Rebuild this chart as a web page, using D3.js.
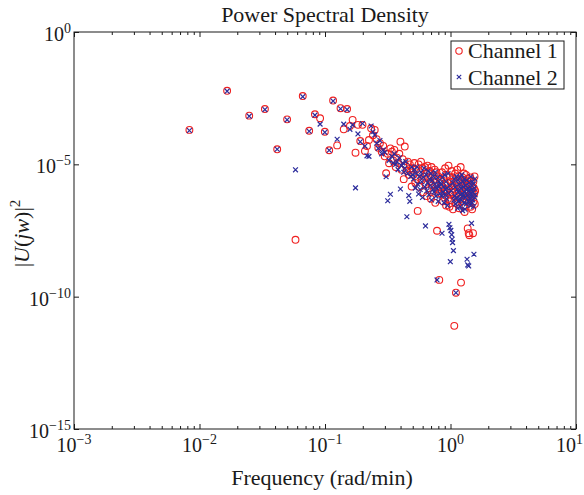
<!DOCTYPE html>
<html>
<head>
<meta charset="utf-8">
<script src="https://cdn.jsdelivr.net/npm/d3@7"></script>
<style>
  body { margin: 0; background: #fff; }
  svg { font-family: "Liberation Serif", "Times New Roman", serif; }
</style>
</head>
<body>
<div id="chart"></div>
<script>
// frequency grid (rad/min), one entry per PSD bin
const frequency = [
  0.00831, 0.0166, 0.0249, 0.0332, 0.0416, 0.0499, 0.0582, 0.0665, 0.0748, 0.0831,
  0.0914, 0.0997, 0.108, 0.116, 0.125, 0.133, 0.141, 0.150, 0.158, 0.166,
  0.175, 0.183, 0.191, 0.199, 0.208, 0.216, 0.224, 0.233, 0.241, 0.249,
  0.258, 0.266, 0.274, 0.283, 0.291, 0.299, 0.307, 0.316, 0.324, 0.332,
  0.341, 0.349, 0.357, 0.366, 0.374, 0.382, 0.391, 0.399, 0.407, 0.416,
  0.424, 0.432, 0.440, 0.449, 0.457, 0.465, 0.474, 0.482, 0.490, 0.499,
  0.507, 0.515, 0.524, 0.532, 0.540, 0.548, 0.557, 0.565, 0.573, 0.582,
  0.590, 0.598, 0.607, 0.615, 0.623, 0.632, 0.640, 0.648, 0.656, 0.665,
  0.673, 0.681, 0.690, 0.698, 0.706, 0.715, 0.723, 0.731, 0.740, 0.748,
  0.756, 0.765, 0.773, 0.781, 0.789, 0.798, 0.806, 0.814, 0.823, 0.831,
  0.839, 0.848, 0.856, 0.864, 0.873, 0.881, 0.889, 0.897, 0.906, 0.914,
  0.922, 0.931, 0.939, 0.947, 0.956, 0.964, 0.972, 0.981, 0.989, 0.997,
  1.006, 1.014, 1.022, 1.030, 1.039, 1.047, 1.055, 1.064, 1.072, 1.080,
  1.089, 1.097, 1.105, 1.114, 1.122, 1.130, 1.138, 1.147, 1.155, 1.163,
  1.172, 1.180, 1.188, 1.197, 1.205, 1.213, 1.222, 1.230, 1.238, 1.247,
  1.255, 1.263, 1.271, 1.280, 1.288, 1.296, 1.305, 1.313, 1.321, 1.330,
  1.338, 1.346, 1.355, 1.363, 1.371, 1.379, 1.388, 1.396, 1.404, 1.413,
  1.421, 1.429, 1.438, 1.446, 1.454, 1.463, 1.471, 1.479, 1.487, 1.496,
  1.504, 1.512, 1.521, 1.529, 1.537, 1.546, 1.554, 1.562, 1.571
];

const channel1 = [
  2.0e-4, 6.0e-3, 6.9e-4, 1.23e-3, 3.7e-5, 5.0e-4, 1.41e-8, 3.8e-3, 1.86e-4, 7.8e-4,
  5.5e-4, 1.7e-4, 3.4e-5, 2.57e-3, 5.2e-5, 1.32e-3, 2.1e-4, 1.23e-3, 2.8e-4, 4.8e-4,
  2.75e-5, 3.1e-4, 7.6e-5, 3.1e-4, 3.16e-5, 4.9e-5, 8.3e-5, 2.3e-4, 1.26e-4, 2.0e-4,
  8.9e-5, 4.2e-5, 6.3e-5, 3.0e-5, 5.0e-5, 2.0e-5, 4.6e-6, 2.5e-5, 1.1e-5, 4.0e-5,
  3.0e-5, 1.41e-5, 3.5e-5, 7.9e-6, 1.78e-5, 1.12e-5, 2.5e-5, 7.2e-5, 6.3e-6, 1.58e-5,
  2.75e-6, 4.7e-5, 8.9e-6, 5.6e-6, 1.26e-5, 4.0e-6, 1.0e-5, 5.0e-6, 1.45e-6, 7.1e-6,
  4.0e-6, 1.12e-5, 2.0e-6, 6.3e-6, 2.8e-6, 1.74e-7, 1.0e-5, 1.41e-6, 5.0e-6, 1.26e-5,
  2.5e-6, 7.1e-6, 8.9e-7, 3.5e-6, 7.9e-6, 1.78e-6, 4.5e-6, 6.3e-7, 8.9e-6, 3.2e-6,
  1.26e-6, 5.6e-6, 2.2e-6, 5.0e-7, 7.9e-6, 1.58e-6, 4.0e-6, 1.0e-6, 2.8e-6, 6.3e-6,
  3.5e-7, 2.0e-6, 5.0e-6, 3.1e-8, 1.12e-6, 3.5e-6, 7.9e-7, 4.3e-10, 2.5e-6, 1.41e-6,
  2.5e-6, 7.9e-7, 5.0e-6, 1.41e-6, 4.0e-7, 3.2e-6, 1.12e-6, 5.6e-7, 7.1e-6, 1.78e-6,
  2.8e-7, 4.0e-6, 1.0e-6, 2.0e-6, 5.0e-7, 8.9e-6, 1.26e-6, 2.5e-7, 3.5e-6, 7.1e-7,
  2.2e-6, 4.5e-7, 5.6e-6, 8.9e-7, 1.58e-6, 2.0e-7, 2.8e-6, 6.3e-7, 7.9e-12, 1.12e-6,
  4.5e-6, 3.5e-7, 1.41e-10, 2.0e-6, 7.9e-7, 6.3e-6, 3.2e-7, 1.41e-6, 5.6e-7, 3.5e-6,
  2.2e-7, 1.26e-6, 2.5e-6, 5.0e-7, 7.9e-6, 3.4e-10, 1.0e-6, 1.78e-6, 4.0e-7, 3.2e-6,
  7.1e-7, 1.58e-6, 2.8e-7, 4.5e-6, 8.9e-7, 1.58e-7, 2.2e-6, 6.3e-7, 1.12e-6, 4.0e-6,
  4.5e-7, 2.0e-6, 7.9e-7, 2.8e-6, 3.8e-8, 5.6e-7, 1.41e-6, 2.5e-8, 3.5e-7, 2.1e-8,
  1.78e-6, 7.1e-7, 3.2e-6, 2.5e-7, 1.12e-6, 5.0e-7, 2.5e-6, 8.9e-7, 2.0e-7, 1.41e-6,
  6.3e-7, 2.5e-8, 2.2e-6, 4.0e-7, 1.26e-6, 7.9e-7, 3.5e-6, 3.2e-7, 1.0e-6
];

const channel2 = [
  1.9e-4, 5.8e-3, 6.6e-4, 1.17e-3, 3.7e-5, 4.8e-4, 6.2e-6, 3.6e-3, 1.78e-4, 7.2e-4,
  3.3e-4, 1.62e-4, 3.4e-5, 2.45e-3, 8.9e-5, 1.26e-3, 3.3e-4, 1.17e-3, 2.1e-4, 3.1e-4,
  1.29e-6, 1.41e-4, 7.1e-5, 3.5e-4, 4.9e-5, 2.1e-5, 2.0e-5, 2.8e-4, 1.7e-4, 1.29e-4,
  6.3e-5, 4.0e-5, 7.9e-5, 2.5e-5, 3.5e-5, 2.8e-5, 3.4e-6, 4.2e-7, 1.41e-5, 7.4e-7,
  2.0e-5, 1.12e-5, 2.5e-5, 1.0e-5, 1.26e-5, 6.3e-6, 1.78e-5, 1.17e-6, 8.9e-6, 1.12e-5,
  5.0e-6, 7.1e-6, 1.26e-5, 1.05e-7, 4.5e-6, 6.6e-7, 4.0e-7, 3.5e-6, 7.9e-6, 4.0e-6,
  2.8e-6, 6.3e-6, 1.26e-6, 4.5e-6, 7.9e-6, 1.78e-6, 7.6e-7, 3.5e-6, 1.12e-6, 5.0e-6,
  2.2e-6, 5.6e-7, 3.2e-6, 7.1e-6, 1.41e-6, 4.7e-8, 4.0e-6, 1.0e-6, 2.0e-6, 5.6e-6,
  7.1e-7, 2.8e-6, 1.58e-6, 4.5e-6, 4.5e-7, 2.5e-6, 1.12e-6, 3.5e-6, 8.9e-7, 1.78e-6,
  5.0e-6, 6.3e-7, 1.26e-6, 4.3e-10, 3.2e-6, 4.0e-7, 2.2e-6, 1.41e-6, 7.9e-7, 2.0e-6,
  1.78e-6, 6.3e-7, 2.5e-8, 3.2e-6, 8.9e-7, 1.41e-6, 3.5e-7, 4.0e-6, 7.1e-7, 1.12e-6,
  2.2e-6, 5.0e-7, 1.26e-6, 2.8e-7, 4.5e-6, 7.9e-7, 5.4e-8, 1.58e-6, 4.0e-8, 2.1e-9,
  3.2e-8, 1.0e-6, 2.2e-8, 1.48e-8, 1.1e-8, 2.0e-6, 5.5e-9, 4.5e-7, 2.8e-6, 6.3e-7,
  1.41e-6, 3.2e-7, 1.41e-10, 3.5e-6, 5.6e-7, 1.12e-6, 2.2e-7, 2.5e-6, 8.9e-7, 4.0e-7,
  1.78e-6, 5.0e-7, 3.2e-6, 7.1e-7, 2.5e-7, 1.26e-6, 4.5e-7, 4.0e-6, 7.9e-7, 1.78e-7,
  2.2e-6, 6.3e-7, 1.41e-6, 3.5e-7, 2.8e-6, 8.9e-7, 2.0e-7, 1.58e-6, 5.6e-7, 1.12e-6,
  3.2e-7, 2.5e-6, 2.6e-9, 7.1e-7, 1.58e-9, 1.26e-6, 4.0e-7, 1.45e-9, 1.0e-6, 2.0e-6,
  5.0e-7, 1.41e-6, 2.8e-7, 7.9e-7, 3.4e-6, 6.3e-7, 5.9e-8, 1.12e-6, 3.5e-7, 2.2e-6,
  4.5e-7, 8.9e-7, 1.78e-6, 2.5e-7, 4.0e-9, 1.26e-6, 5.6e-7, 2.8e-6, 7.1e-7
];

const seriesNames = ['Channel 1', 'Channel 2'];
const xTicks = [1e-3, 1e-2, 1e-1, 1e0, 1e1];
const xTickExp = ['\u22123', '\u22122', '\u22121', '0', '1'];
const yTicks = [1e0, 1e-5, 1e-10, 1e-15];
const yTickExp = ['0', '\u22125', '\u221210', '\u221215'];

const width = 584;
const height = 495;
const plotLeft = 74, plotRight = 576, plotTop = 32, plotBottom = 429;
const red = '#f02020';
const blue = '#2c2c9c';

const svg = d3.select('#chart')
    .append('svg')
    .attr('width', width)
    .attr('height', height);

const x = d3.scaleLog().domain([1e-3, 1e1]).range([plotLeft, plotRight]);
const y = d3.scaleLog().domain([1e-15, 1e0]).range([plotBottom, plotTop]);

const minorX = x.ticks().filter(v => !xTicks.some(t => Math.abs(t - v) / t < 1e-9));

// ticks, pointing inwards on all four sides
svg.append('g')
    .attr('transform', `translate(0,${plotBottom})`)
    .call(d3.axisBottom(x).tickValues(xTicks).tickSizeInner(-5).tickSizeOuter(0).tickFormat(''));
svg.append('g')
    .attr('transform', `translate(0,${plotBottom})`)
    .call(d3.axisBottom(x).tickValues(minorX).tickSizeInner(-3).tickSizeOuter(0).tickFormat(''));
svg.append('g')
    .attr('transform', `translate(0,${plotTop})`)
    .call(d3.axisTop(x).tickValues(xTicks).tickSizeInner(-5).tickSizeOuter(0).tickFormat(''));
svg.append('g')
    .attr('transform', `translate(0,${plotTop})`)
    .call(d3.axisTop(x).tickValues(minorX).tickSizeInner(-3).tickSizeOuter(0).tickFormat(''));
svg.append('g')
    .attr('transform', `translate(${plotLeft},0)`)
    .call(d3.axisLeft(y).tickValues(yTicks).tickSizeInner(-5).tickSizeOuter(0).tickFormat(''));
svg.append('g')
    .attr('transform', `translate(${plotRight},0)`)
    .call(d3.axisRight(y).tickValues(yTicks).tickSizeInner(-5).tickSizeOuter(0).tickFormat(''));

svg.selectAll('.domain').remove();
svg.selectAll('.tick line').attr('stroke', '#1a1a1a');

svg.append('rect')
    .attr('x', plotLeft)
    .attr('y', plotTop)
    .attr('width', plotRight - plotLeft)
    .attr('height', plotBottom - plotTop)
    .attr('fill', 'none')
    .attr('stroke', '#1a1a1a')
    .attr('stroke-width', 1);

// tick labels as 10^n
const xLab = svg.append('g').selectAll('text')
    .data(xTicks)
    .enter()
    .append('text')
    .attr('x', d => x(d))
    .attr('y', plotBottom + 23)
    .attr('text-anchor', 'middle')
    .style('font-size', '20px')
    .attr('fill', '#1a1a1a');
xLab.append('tspan').text('10');
xLab.append('tspan').attr('dy', -8).style('font-size', '14px').text((d, i) => xTickExp[i]);

// keep the last label inside the window
xLab.each(function () {
    const b = this.getBBox();
    if (b.x + b.width > width - 1) {
        d3.select(this).attr('x', +d3.select(this).attr('x') - (b.x + b.width - width + 1));
    }
});

const yLab = svg.append('g').selectAll('text')
    .data(yTicks)
    .enter()
    .append('text')
    .attr('x', plotLeft - 3)
    .attr('y', d => y(d) + 9)
    .attr('text-anchor', 'end')
    .style('font-size', '20px')
    .attr('fill', '#1a1a1a');
yLab.append('tspan').text('10');
yLab.append('tspan').attr('dy', -8).style('font-size', '14px').text((d, i) => yTickExp[i]);

// title and axis labels
svg.append('text')
    .attr('x', (plotLeft + plotRight) / 2)
    .attr('y', 22)
    .attr('text-anchor', 'middle')
    .style('font-size', '22px')
    .attr('fill', '#1a1a1a')
    .text('Power Spectral Density');

svg.append('text')
    .attr('x', (plotLeft + plotRight) / 2 - 3)
    .attr('y', 485)
    .attr('text-anchor', 'middle')
    .style('font-size', '22px')
    .attr('fill', '#1a1a1a')
    .text('Frequency (rad/min)');

const yTitle = svg.append('text')
    .attr('transform', `translate(29,${(plotTop + plotBottom) / 2 + 3}) rotate(-90)`)
    .attr('text-anchor', 'middle')
    .style('font-size', '22px')
    .attr('fill', '#1a1a1a');
yTitle.append('tspan').text('|');
yTitle.append('tspan').style('font-style', 'italic').text('U');
yTitle.append('tspan').text('(');
yTitle.append('tspan').style('font-style', 'italic').text('jw');
yTitle.append('tspan').text(')|');
yTitle.append('tspan').attr('dy', -9).style('font-size', '15px').text('2');

// markers
const crossPath = s => `M${-s},${-s}L${s},${s}M${-s},${s}L${s},${-s}`;

const pts1 = frequency.map((f, i) => ({ f: f, v: channel1[i] }));
const pts2 = frequency.map((f, i) => ({ f: f, v: channel2[i] }));

svg.append('g').selectAll('circle')
    .data(pts1)
    .enter()
    .append('circle')
    .attr('cx', d => x(d.f))
    .attr('cy', d => y(d.v))
    .attr('r', 3.4)
    .attr('fill', 'none')
    .attr('stroke', red)
    .attr('stroke-width', 1.1);

svg.append('g').selectAll('path')
    .data(pts2)
    .enter()
    .append('path')
    .attr('transform', d => `translate(${x(d.f)},${y(d.v)})`)
    .attr('d', crossPath(2.4))
    .attr('stroke', blue)
    .attr('stroke-width', 1.2);

// legend
const legend = svg.append('g');
legend.append('rect')
    .attr('x', 451)
    .attr('y', 41)
    .attr('width', 113)
    .attr('height', 48)
    .attr('fill', '#fff')
    .attr('stroke', '#1a1a1a');
legend.append('circle')
    .attr('cx', 459).attr('cy', 51).attr('r', 3.2)
    .attr('fill', 'none').attr('stroke', red).attr('stroke-width', 1.1);
legend.append('path')
    .attr('transform', 'translate(459,77)')
    .attr('d', crossPath(2.2))
    .attr('stroke', blue).attr('stroke-width', 1.1);
legend.selectAll('.lab')
    .data(seriesNames)
    .enter()
    .append('text')
    .attr('x', 468)
    .attr('y', (d, i) => 58 + i * 27)
    .style('font-size', '22px')
    .attr('fill', '#1a1a1a')
    .text(d => d);
</script>
</body>
</html>
